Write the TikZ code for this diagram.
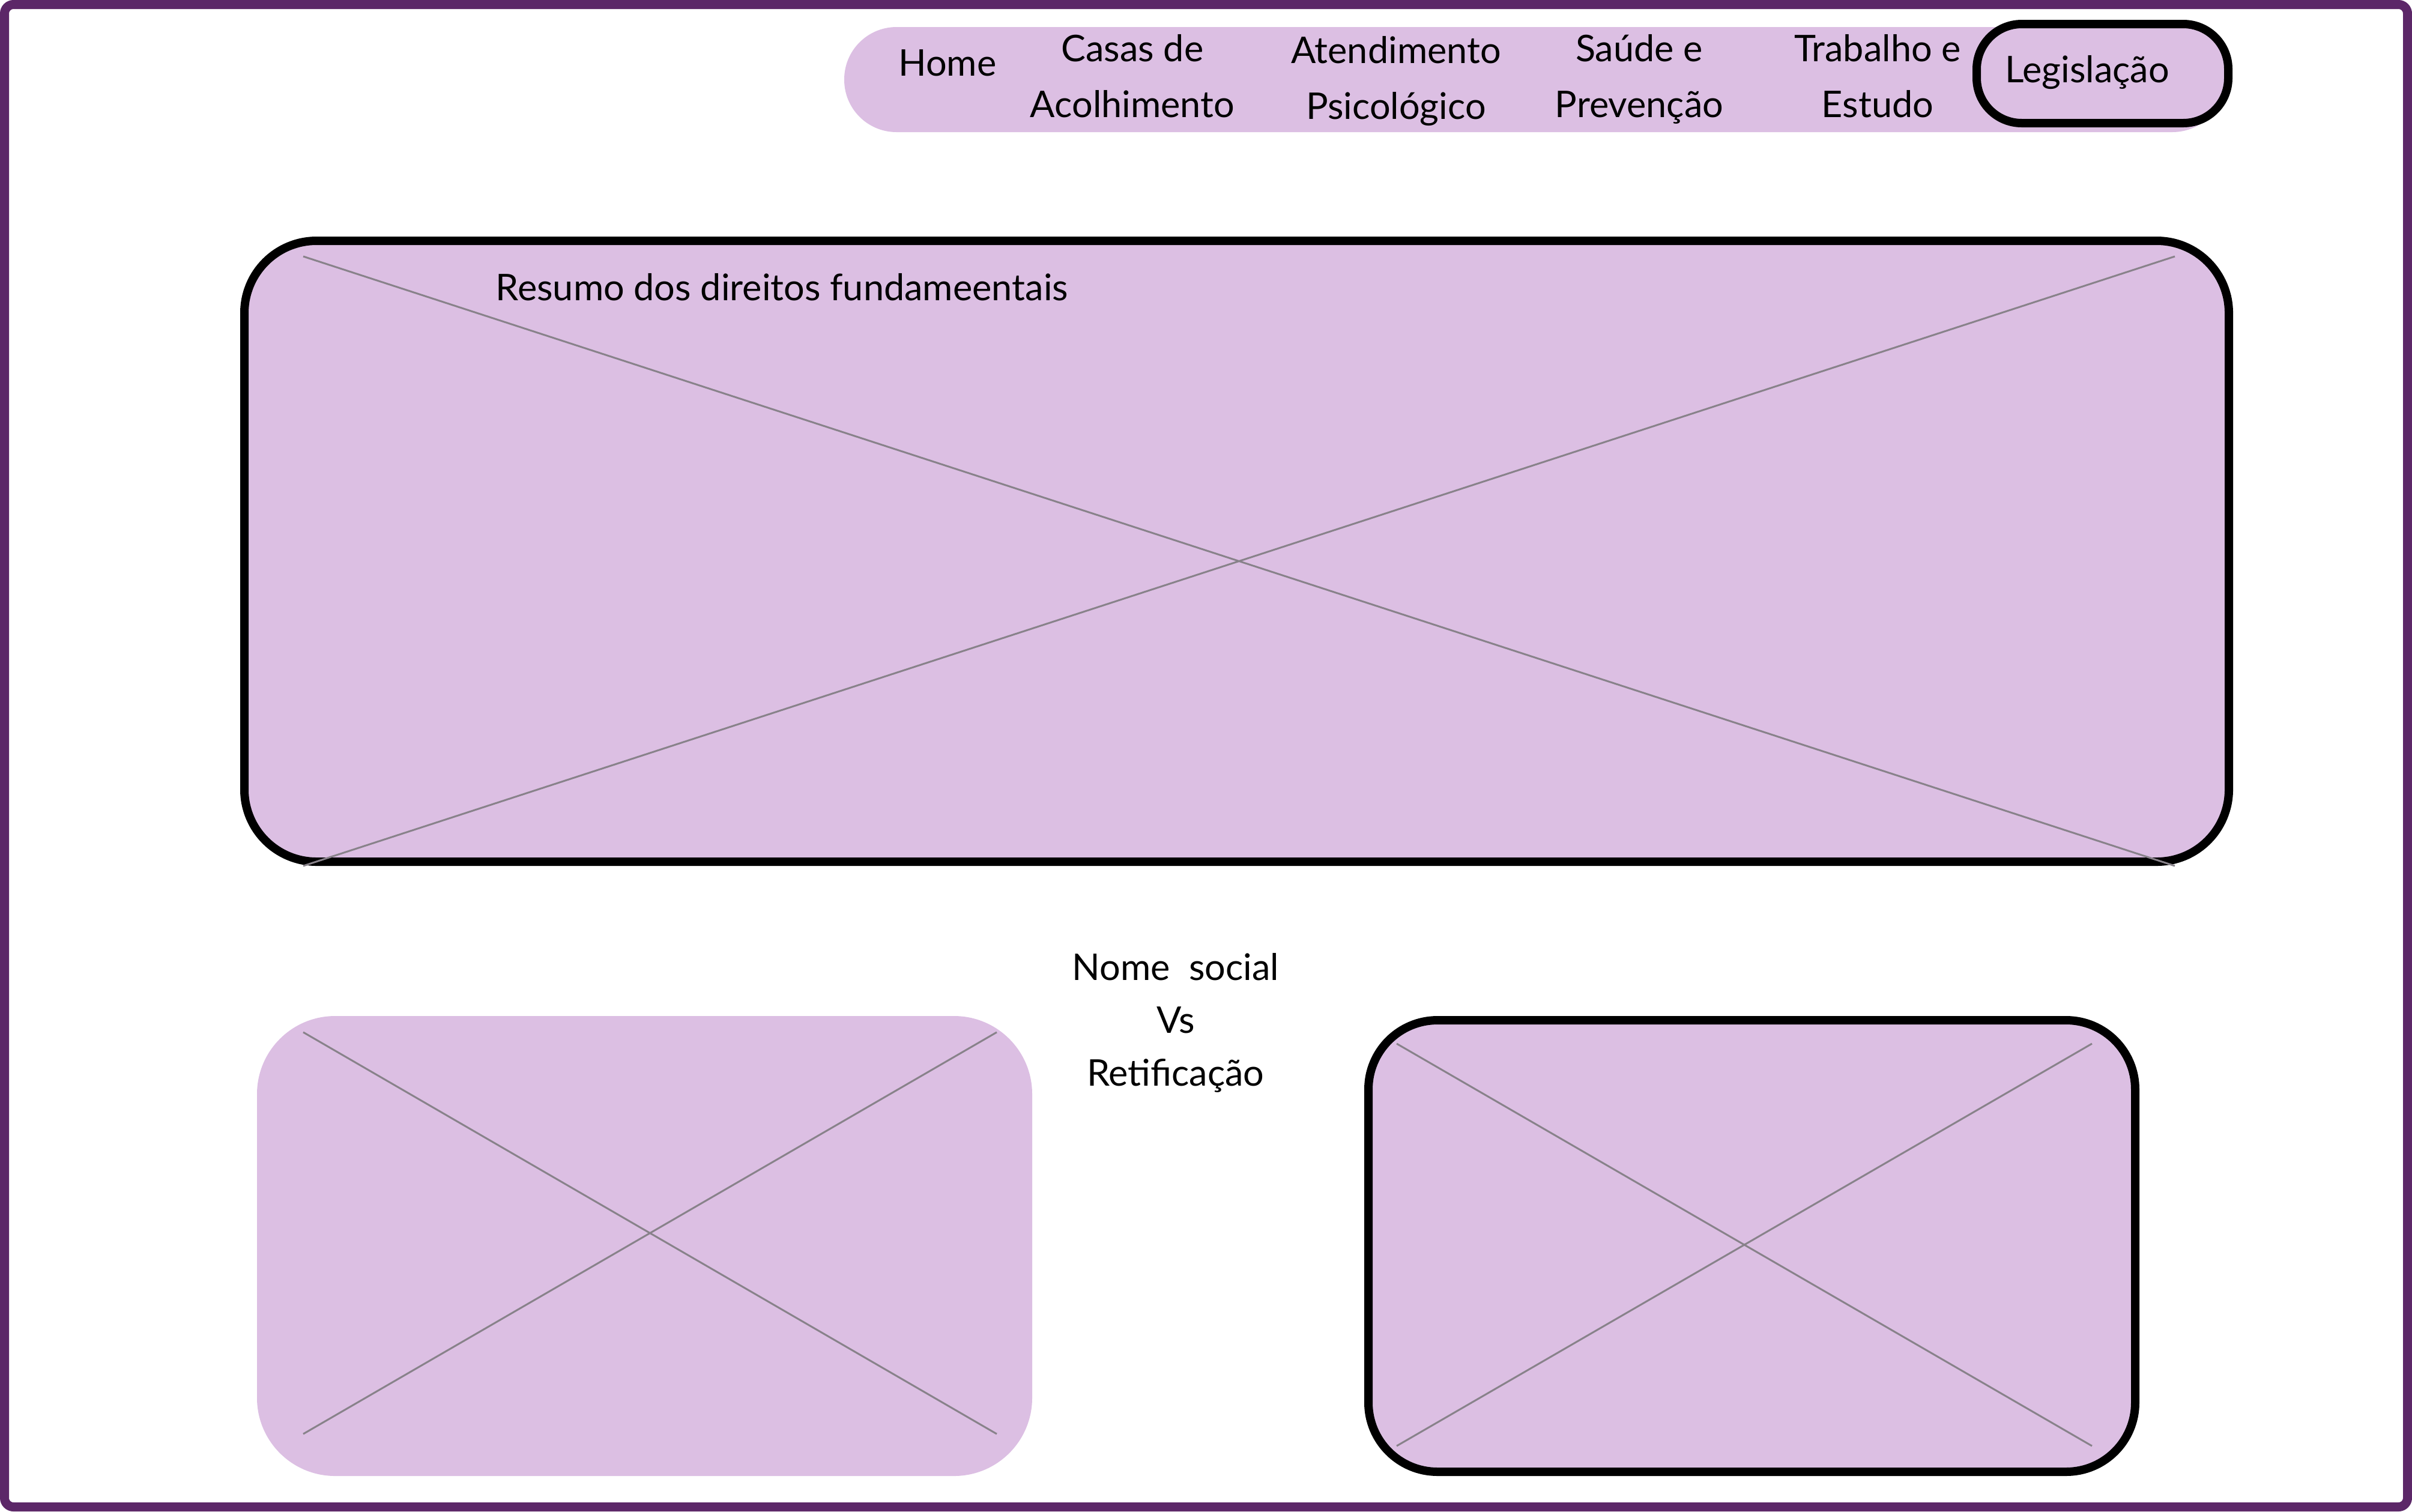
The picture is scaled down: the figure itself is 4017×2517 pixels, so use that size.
\documentclass[tikz,border=0pt]{standalone}
\usepackage{fontspec}
\setmainfont{Lato}
\usetikzlibrary{positioning}
\definecolor{lilac}{RGB}{220,191,227}
\definecolor{plum}{RGB}{92,39,104}
\definecolor{crossgray}{RGB}{136,130,138}
\tikzset{every node/.append style={font=\fontsize{17.4}{26.4}\selectfont, inner sep=0pt}}
\tikzset{card/.style={fill=lilac}}
\tikzset{cardline/.style={card, draw=black, line width=0.14cm}}
\tikzset{cross/.style={draw=crossgray, line width=0.03cm}}
\tikzset{navitem/.style={anchor=base, align=center}}

\begin{document}
\begin{tikzpicture}[x=0.01cm,y=-0.01cm]
\useasboundingbox (0,0) rectangle (4017,2517);
\draw[plum, line width=0.15cm, rounded corners=0.15cm] (7.5,7.5) rectangle (4009.5,2509.5);
% menu
\fill[card, rounded corners=0.87cm] (1406,45) rectangle (3705,220);
\draw[cardline, rounded corners=0.75cm] (3292,40) rectangle (3711,205);
\node[navitem] (home) at (1578,126) {Home};
\node[navitem] (casas) at (1886,195) {Casas de\\Acolhimento};
\node[navitem] (atend) at (2325,198) {Atendimento\\Psicológico};
\node[navitem] (saude) at (2730,195) {Saúde e\\Prevenção};
\node[navitem] (trab) at (3127,195) {Trabalho e\\Estudo};
\node[navitem] (legis) at (3476,137) {Legislação};
% cards
\draw[cardline, rounded corners=1.2cm] (407,401) rectangle (3712,1435);
\fill[card, rounded corners=1.3cm] (428,1692) rectangle (1719,2458);
\draw[cardline, rounded corners=1.15cm] (2279,1699) rectangle (3556,2451);
\coordinate (big nw) at (505,427);
\coordinate (big ne) at (3622,427);
\coordinate (big sw) at (505,1442);
\coordinate (big se) at (3622,1442);
\coordinate (left nw) at (505,1719);
\coordinate (left ne) at (1660,1719);
\coordinate (left sw) at (505,2388);
\coordinate (left se) at (1660,2388);
\coordinate (right nw) at (2326,1738);
\coordinate (right ne) at (3484,1738);
\coordinate (right sw) at (2326,2408);
\coordinate (right se) at (3484,2408);
\draw[cross] (big nw) -- (big se) (big ne) -- (big sw);
\draw[cross] (left nw) -- (left se) (left ne) -- (left sw);
\draw[cross] (right nw) -- (right se) (right ne) -- (right sw);
\node[anchor=base west] (resumo) at (825,500) {Resumo dos direitos fundameentais};
\node[navitem, font=\fontsize{17.4}{25}\selectfont] (nome) at (1958,1808) {Nome\ \ social\\Vs\\Retificação};
\end{tikzpicture}
\end{document}
